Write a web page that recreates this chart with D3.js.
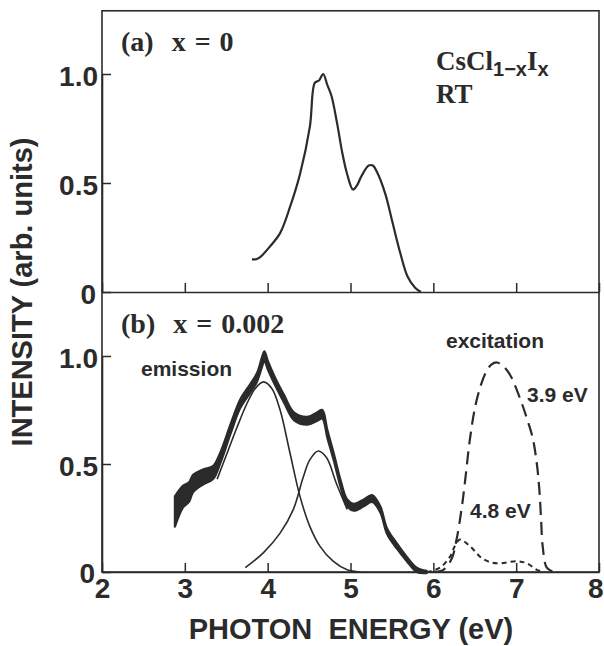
<!DOCTYPE html>
<html>
<head>
<meta charset="utf-8">
<script src="https://cdn.jsdelivr.net/npm/d3@7"></script>
<style>
  html, body { margin: 0; padding: 0; background: #fff; }
  svg { display: block; }
  .sans { font-family: "Liberation Sans", Arial, Helvetica, sans-serif; font-weight: bold; fill: #2b2b2b; }
  .serif { font-family: "Liberation Serif", "Times New Roman", serif; fill: #2b2b2b; }
</style>
</head>
<body>
<svg id="chart" width="604" height="646"></svg>
<script>
// ---------- data ----------
// (a) x = 0 emission spectrum
const energyA    = [3.81,3.86,3.91,4.03,4.15,4.27,4.39,4.51,4.57,4.62,4.67,4.72,4.77,4.84,4.90,4.96,5.03,5.08,5.13,5.22,5.27,5.32,5.42,5.50,5.60,5.69,5.78,5.85];
const intensityA = [0.15,0.15,0.16,0.21,0.27,0.39,0.54,0.76,0.96,0.97,1.00,0.95,0.90,0.77,0.64,0.54,0.47,0.49,0.53,0.58,0.58,0.55,0.45,0.33,0.18,0.07,0.02,0.00];

// (b) x = 0.002 emission (noisy, thick)
const energyEm    = [2.88,2.98,3.05,3.10,3.22,3.34,3.43,3.55,3.67,3.79,3.87,3.93,3.96,4.00,4.08,4.20,4.32,4.48,4.60,4.66,4.72,4.80,4.88,4.96,5.04,5.16,5.26,5.36,5.44,5.56,5.68,5.80,5.92];
const intensityEm = [0.28,0.35,0.37,0.41,0.44,0.46,0.53,0.66,0.78,0.85,0.90,0.97,1.00,0.96,0.89,0.80,0.72,0.70,0.72,0.73,0.64,0.53,0.41,0.32,0.30,0.32,0.34,0.29,0.19,0.12,0.06,0.01,0.00];
const noiseEm     = [0.07,0.05,0.045,0.04,0.035,0.03,0.025,0.022,0.02,0.02,0.02,0.022,0.022,0.02,0.018,0.018,0.018,0.018,0.02,0.02,0.018,0.016,0.016,0.016,0.016,0.016,0.016,0.014,0.013,0.012,0.01,0.01,0.005];

// (b) fitted component bands
const energyG1    = [3.39,3.51,3.63,3.75,3.85,3.95,4.05,4.15,4.27,4.39,4.51,4.63,4.79,4.96,5.12];
const intensityG1 = [0.43,0.55,0.67,0.78,0.85,0.88,0.85,0.75,0.55,0.35,0.21,0.12,0.05,0.01,0.00];
const energyG2    = [3.73,3.95,4.15,4.31,4.43,4.51,4.61,4.71,4.83,4.96];
const intensityG2 = [0.02,0.09,0.18,0.29,0.44,0.52,0.56,0.53,0.41,0.29];

// (b) excitation spectra
const energyEx39    = [6.00,6.12,6.22,6.28,6.34,6.38,6.44,6.505,6.57,6.63,6.70,6.77,6.85,6.93,7.05,7.13,7.20,7.25,7.28,7.30,7.32,7.37,7.45];
const intensityEx39 = [0.00,0.01,0.06,0.15,0.29,0.41,0.61,0.765,0.86,0.92,0.96,0.97,0.95,0.91,0.80,0.71,0.62,0.50,0.38,0.25,0.12,0.02,0.00];
const energyEx48    = [5.92,6.08,6.20,6.26,6.32,6.44,6.60,6.77,7.01,7.13,7.25,7.33];
const intensityEx48 = [0.00,0.02,0.07,0.12,0.15,0.12,0.06,0.04,0.05,0.04,0.01,0.00];

// ticks
const xTicks = [2,3,4,5,6,7,8];
const yTicks = [0,0.5,1.0];
const yTickLabels = ["0","0.5","1.0"];

// ---------- drawing ----------
const svg = d3.select("#chart");
const ink = "#2b2b2b";

const x = d3.scaleLinear().domain([2, 8]).range([102, 599]);
const yA = d3.scaleLinear().domain([0, 1]).range([292, 74]);
const yB = d3.scaleLinear().domain([0, 1]).range([572, 356]);

const zip = (xs, ys) => xs.map((v, i) => [v, ys[i]]);

// frame
const frame = svg.append("g").attr("stroke", ink).attr("stroke-width", 1.6).attr("fill", "none");
frame.append("rect").attr("x", x(2)).attr("y", yA(1.29)).attr("width", x(8) - x(2)).attr("height", yB(0) - yA(1.29));

// axes
function yAxis(scale) {
  return d3.axisLeft(scale).tickValues(yTicks).tickFormat((d, i) => yTickLabels[i])
    .tickSizeInner(-9).tickSizeOuter(0).tickPadding(4);
}
function xAxis(showLabels) {
  return d3.axisBottom(x).tickValues(xTicks).tickFormat(showLabels ? d3.format("d") : () => "")
    .tickSizeInner(-9).tickSizeOuter(0).tickPadding(6);
}
function styleAxis(g) {
  g.select(".domain").attr("stroke", ink).attr("stroke-width", 1.6);
  g.selectAll(".tick line").attr("stroke", ink).attr("stroke-width", 1.5);
  g.selectAll(".tick text").attr("class", "sans").style("font-size", "28px").attr("fill", ink);
}
const gxA = svg.append("g").attr("transform", `translate(0,${yA(0)})`).call(xAxis(false)).call(styleAxis);
const gxB = svg.append("g").attr("transform", `translate(0,${yB(0)})`).call(xAxis(true)).call(styleAxis);
const gyA = svg.append("g").attr("transform", `translate(${x(2)},0)`).call(yAxis(yA)).call(styleAxis);
const gyB = svg.append("g").attr("transform", `translate(${x(2)},0)`).call(yAxis(yB)).call(styleAxis);
[gyA, gyB].forEach(g => g.selectAll(".tick text").attr("dy", "0.42em"));
gyB.selectAll(".tick text").filter(d => d === 0).attr("dy", "0.36em").attr("x", -7);
gyA.selectAll(".tick text").filter(d => d === 0).attr("dy", "0.4em").attr("x", -6);
gxB.selectAll(".tick text").filter(d => d === 8).attr("text-anchor", "end").attr("x", 4);

// curves
const lineA = d3.line().x(d => x(d[0])).y(d => yA(d[1])).curve(d3.curveCatmullRom.alpha(0.5));
const lineB = d3.line().x(d => x(d[0])).y(d => yB(d[1])).curve(d3.curveCatmullRom.alpha(0.5));

svg.append("path").datum(zip(energyA, intensityA)).attr("d", lineA)
  .attr("fill", "none").attr("stroke", ink).attr("stroke-width", 2.2).attr("stroke-linejoin", "round");

// emission band (b)
const emData = energyEm.map((e, i) => ({ e, v: intensityEm[i], w: noiseEm[i] }));
const areaEm = d3.area().x(d => x(d.e)).y0(d => yB(d.v - d.w)).y1(d => yB(d.v + d.w))
  .curve(d3.curveCatmullRom.alpha(0.5));
svg.append("path").datum(emData).attr("d", areaEm).attr("fill", ink)
  .attr("stroke", ink).attr("stroke-width", 2.2).attr("stroke-linejoin", "round");

// components
[[energyG1, intensityG1], [energyG2, intensityG2]].forEach(([es, is]) => {
  svg.append("path").datum(zip(es, is)).attr("d", lineB)
    .attr("fill", "none").attr("stroke", ink).attr("stroke-width", 1.6);
});

// excitation
svg.append("path").datum(zip(energyEx39, intensityEx39)).attr("d", lineB)
  .attr("fill", "none").attr("stroke", ink).attr("stroke-width", 2.2).attr("stroke-dasharray", "13,7");
svg.append("path").datum(zip(energyEx48, intensityEx48)).attr("d", lineB)
  .attr("fill", "none").attr("stroke", ink).attr("stroke-width", 2).attr("stroke-dasharray", "5,4");

// texts
svg.append("text").attr("class", "serif").attr("x", 121).attr("y", 51)
  .style("font-size", "28px").style("font-weight", "bold").style("word-spacing", "2px").style("white-space", "pre").text("(a)  x = 0");
svg.append("text").attr("class", "serif").attr("x", 121).attr("y", 333)
  .style("font-size", "28px").style("font-weight", "bold").style("word-spacing", "2px").style("white-space", "pre").text("(b)  x = 0.002");

const cs = svg.append("text").attr("class", "serif").attr("x", 436).attr("y", 70).style("font-size", "27px").style("font-weight", "bold");
cs.append("tspan").text("CsCl");
cs.append("tspan").attr("class", "sans").style("font-size", "20px").attr("dy", 6).text("1\u2212x");
cs.append("tspan").attr("dy", -6).text("I");
cs.append("tspan").attr("class", "sans").style("font-size", "20px").attr("dy", 6).text("x");
svg.append("text").attr("class", "serif").attr("x", 436).attr("y", 103).style("font-size", "27px").style("font-weight", "bold").text("RT");

svg.append("text").attr("class", "sans").attr("x", 141).attr("y", 376).style("font-size", "21px").text("emission");
svg.append("text").attr("class", "sans").attr("x", 446).attr("y", 348).style("font-size", "21px").text("excitation");
svg.append("text").attr("class", "sans").attr("x", 527).attr("y", 402).style("font-size", "21px").text("3.9 eV");
svg.append("text").attr("class", "sans").attr("x", 470).attr("y", 518).style("font-size", "21px").text("4.8 eV");

svg.append("text").attr("class", "sans").attr("text-anchor", "middle")
  .attr("transform", `translate(32,292) rotate(-90)`).style("font-size", "29px").text("INTENSITY (arb. units)");
svg.append("text").attr("class", "sans").attr("text-anchor", "middle").attr("x", 351).attr("y", 639)
  .style("font-size", "29px").style("white-space", "pre").text("PHOTON  ENERGY (eV)");
</script>
</body>
</html>
